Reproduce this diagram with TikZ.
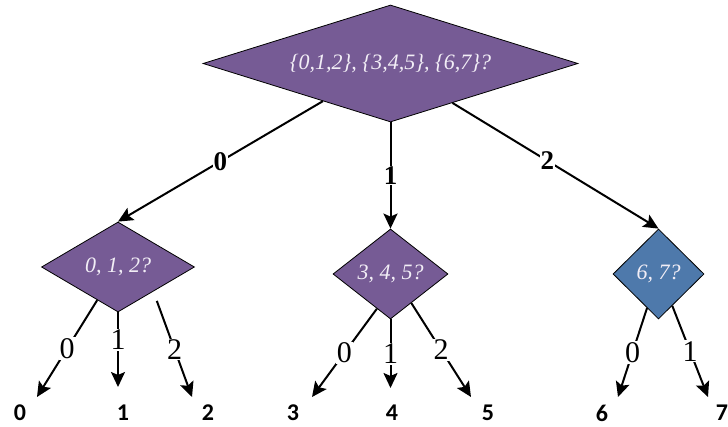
\documentclass[tikz,border=0pt]{standalone}
\usepackage{fontspec}
\setmainfont{Liberation Serif}
\newfontfamily\leaffont{Carlito}
\usetikzlibrary{shapes.geometric,arrows.meta,calc}
\definecolor{qpurple}{HTML}{765B95}
\definecolor{qblue}{HTML}{4E79AB}
\definecolor{qtext}{HTML}{F2EEF6}

\begin{document}
\begin{tikzpicture}[x=1pt,y=-1pt,
  question/.style={diamond,draw=black,line width=0.8pt,inner sep=0pt,text=qtext,
    font=\fontsize{22}{24}\selectfont\itshape},
  branch/.style={line width=2pt,-{Stealth[length=15pt,width=14pt,inset=3pt]}},
  toplabel/.style={fill=white,inner sep=1pt,font=\fontsize{27}{29}\selectfont\bfseries},
  sublabel/.style={fill=white,inner sep=1pt,font=\fontsize{30}{32}\selectfont},
  leaf/.style={inner sep=0pt,font=\leaffont\fontsize{24}{26}\selectfont\bfseries}]
\useasboundingbox (0,0) rectangle (728,427);

% decision diamonds
\node[question,fill=qpurple,shape aspect=3.2,minimum width=375pt,minimum height=117pt] (top) at (390.5,63.5)
  {\{0,1,2\}, \{3,4,5\}, \{6,7\}?};
\node[question,fill=qpurple,shape aspect=1.7,minimum width=153pt,minimum height=90pt] (L) at (118,267) {0, 1, 2?};
\node[question,fill=qpurple,shape aspect=1.28,minimum width=115pt,minimum height=90pt] (M) at (390.5,274) {3, 4, 5?};
\node[question,fill=qblue,shape aspect=1,minimum width=91pt,minimum height=90pt] (R) at (658.5,274) {6, 7?};

% leaf values
\node[leaf] (n0) at (20,413) {0};
\node[leaf] (n1) at (123,413) {1};
\node[leaf] (n2) at (208,413) {2};
\node[leaf] (n3) at (293,413) {3};
\node[leaf] (n4) at (392,413) {4};
\node[leaf] (n5) at (488,413) {5};
\node[leaf] (n6) at (602,413) {6};
\node[leaf] (n7) at (722,413) {7};

% arrow ends above the leaves
\coordinate (a0) at (37,397);
\coordinate (a1) at (118,387);
\coordinate (a2) at (192,397);
\coordinate (a3) at (312,397);
\coordinate (a4) at (390.5,388);
\coordinate (a5) at (471,397);
\coordinate (a6) at (618,397);
\coordinate (a7) at (708,397);

% first-level branches
\draw[branch] ($(top.west)!0.64!(top.south)$) -- node[toplabel]{0} (L.north);
\draw[branch] (top.south) -- node[toplabel]{1} (M.north);
\draw[branch] ($(top.south)!0.33!(top.east)$) -- node[toplabel,pos=0.46]{2} (R.north);

% second-level branches
\draw[branch] ($(L.west)!0.73!(L.south)$) -- node[sublabel]{0} (a0);
\draw[branch] (L.south) -- node[sublabel,pos=0.37]{1} (a1);
\draw[branch,shorten <=10pt] ($(L.south)!0.46!(L.east)$) -- node[sublabel,pos=0.55]{2} (a2);

\draw[branch] ($(M.west)!0.765!(M.south)$) -- node[sublabel]{0} (a3);
\draw[branch] (M.south) -- node[sublabel]{1} (a4);
\draw[branch] ($(M.south)!0.36!(M.east)$) -- node[sublabel]{2} (a5);

\draw[branch] ($(R.west)!0.75!(R.south)$) -- node[sublabel]{0} (a6);
\draw[branch] ($(R.south)!0.30!(R.east)$) -- node[sublabel]{1} (a7);
\end{tikzpicture}
\end{document}
